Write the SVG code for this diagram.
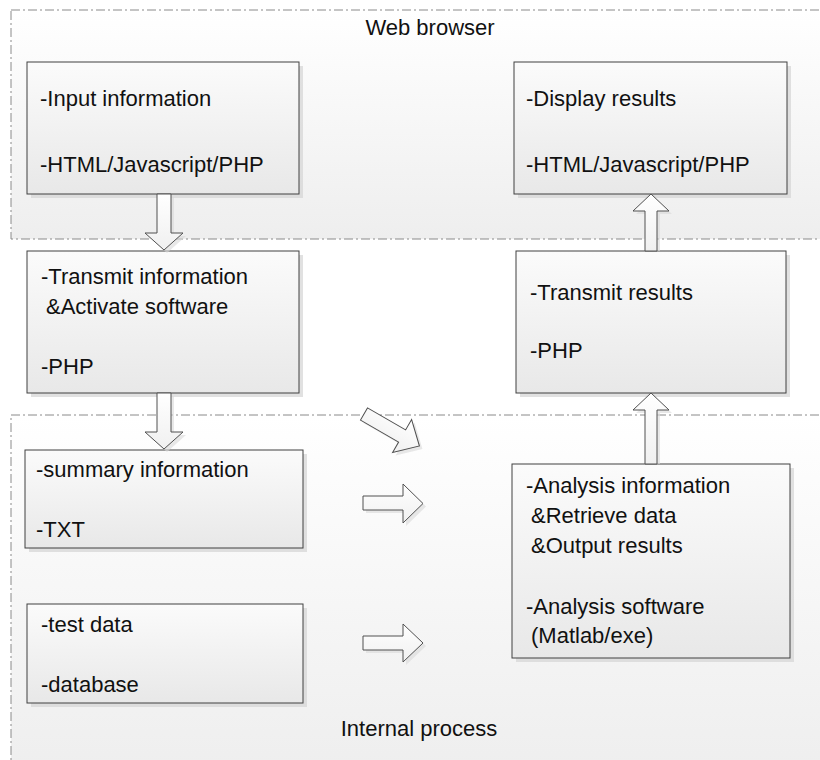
<svg xmlns="http://www.w3.org/2000/svg" width="820" height="760" viewBox="0 0 820 760">
  <defs>
    <linearGradient id="gBox" x1="0" y1="0" x2="0" y2="1">
      <stop offset="0" stop-color="#fbfbfb"/>
      <stop offset="1" stop-color="#e8e8e8"/>
    </linearGradient>
    <linearGradient id="gCont" x1="0" y1="0" x2="0" y2="1">
      <stop offset="0" stop-color="#ffffff"/>
      <stop offset="1" stop-color="#eeeeee"/>
    </linearGradient>
    <linearGradient id="gArrow" x1="0" y1="0" x2="0" y2="1">
      <stop offset="0" stop-color="#ffffff"/>
      <stop offset="1" stop-color="#f0f0f0"/>
    </linearGradient>
  </defs>
  <style>
    .cont { fill: url(#gCont); stroke: #8a8a8a; stroke-width: 1; stroke-dasharray: 9 3 2 3; }
    .box { fill: url(#gBox); stroke: #404040; stroke-width: 1; }
    .shadow { fill: #d4d4d4; opacity: 0.7; }
    .arrow { fill: url(#gArrow); stroke: #505050; stroke-width: 1; stroke-linejoin: miter; }
    .ashadow { fill: #d8d8d8; opacity: 0.6; }
    text { font-family: "Liberation Sans", Arial, sans-serif; font-size: 22px; fill: #111111; }
    .center { text-anchor: middle; }
  </style>
  <rect x="0" y="0" width="820" height="760" fill="#ffffff"/>

  <g id="web-browser">
    <rect class="cont" x="11" y="10" width="830" height="229"/>
    <text class="center" x="430" y="35">Web browser</text>
  </g>
  <g id="internal-process">
    <rect class="cont" x="11" y="415" width="830" height="360"/>
    <text class="center" x="419" y="736">Internal process</text>
  </g>

  <g id="input-information">
    <rect class="shadow" x="31" y="66" width="272" height="132"/>
    <rect class="box" x="27" y="62" width="272" height="132"/>
    <text x="40" y="106">-Input information</text>
    <text x="40" y="172">-HTML/Javascript/PHP</text>
  </g>

  <g id="display-results">
    <rect class="shadow" x="518" y="66" width="273" height="132"/>
    <rect class="box" x="514" y="62" width="273" height="132"/>
    <text x="526" y="106">-Display results</text>
    <text x="526" y="172">-HTML/Javascript/PHP</text>
  </g>

  <g id="transmit-information">
    <rect class="shadow" x="31" y="255" width="272" height="142"/>
    <rect class="box" x="27" y="251" width="272" height="142"/>
    <text x="41" y="284">-Transmit information</text>
    <text x="46" y="314">&amp;Activate software</text>
    <text x="41" y="374">-PHP</text>
  </g>

  <g id="transmit-results">
    <rect class="shadow" x="520" y="255" width="270" height="142"/>
    <rect class="box" x="516" y="251" width="270" height="142"/>
    <text x="530" y="300">-Transmit results</text>
    <text x="530" y="358">-PHP</text>
  </g>

  <g id="summary-information">
    <rect class="shadow" x="29" y="454" width="278" height="98"/>
    <rect class="box" x="25" y="450" width="278" height="98"/>
    <text x="36" y="477">-summary information</text>
    <text x="36" y="537">-TXT</text>
  </g>

  <g id="test-data">
    <rect class="shadow" x="31" y="608" width="276" height="99"/>
    <rect class="box" x="27" y="604" width="276" height="99"/>
    <text x="41" y="632">-test data</text>
    <text x="41" y="692">-database</text>
  </g>

  <g id="analysis-software">
    <rect class="shadow" x="516" y="468" width="278" height="194"/>
    <rect class="box" x="512" y="464" width="278" height="194"/>
    <text x="526" y="493">-Analysis information</text>
    <text x="531" y="523">&amp;Retrieve data</text>
    <text x="531" y="553">&amp;Output results</text>
    <text x="526" y="614">-Analysis software</text>
    <text x="531" y="643">(Matlab/exe)</text>
  </g>

  <g id="connectors">
    <path class="ashadow" d="M160,197 H174 V236 H186 L167,253 L148,236 H160 Z"/>
    <path class="arrow" d="M157,194 H171 V233 H183 L164,250 L145,233 H157 Z"/>
    <path class="ashadow" d="M160,396 H174 V435 H186 L167,452 L148,435 H160 Z"/>
    <path class="arrow" d="M157,393 H171 V432 H183 L164,449 L145,432 H157 Z"/>

    <path class="ashadow" d="M648,464 V413 H636 L654,396 L672,413 H660 V464 Z"/>
    <path class="arrow" d="M645,464 V410 H633 L651,393 L669,410 H657 V464 Z"/>
    <path class="ashadow" d="M648,251 V214 H636 L654,197 L672,214 H660 V251 Z"/>
    <path class="arrow" d="M645,251 V211 H633 L651,194 L669,211 H657 V251 Z"/>

    <path class="ashadow" d="M366,499 H406 V487 L426,506.5 L406,526 V513 H366 Z"/>
    <path class="arrow" d="M363,496 H403 V484 L423,503.5 L403,523 V510 H363 Z"/>
    <path class="ashadow" d="M366,639 H406 V627 L426,646 L406,665 V653 H366 Z"/>
    <path class="arrow" d="M363,636 H403 V624 L423,643 L403,662 V650 H363 Z"/>

    <g transform="translate(367,417) rotate(30)">
      <path class="ashadow" d="M0,-7 H44 V-19 L64,0 L44,19 V7 H0 Z"/>
    </g>
    <g transform="translate(364,414) rotate(30)">
      <path class="arrow" d="M0,-7 H44 V-19 L64,0 L44,19 V7 H0 Z"/>
    </g>
  </g>
</svg>
